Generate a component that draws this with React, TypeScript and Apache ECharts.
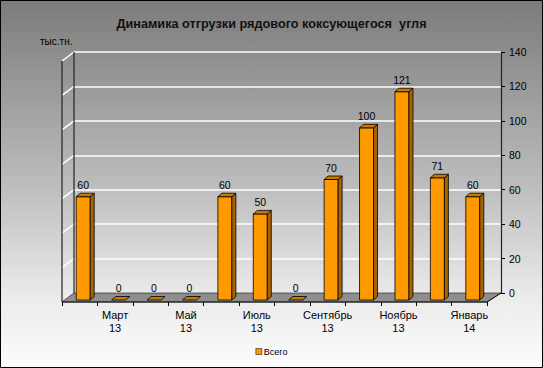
import React, { useEffect, useRef } from "react";
import * as echarts from "echarts";

const categories = [
  "Февраль\n13", "Март\n13", "Апрель\n13", "Май\n13", "Июнь\n13", "Июль\n13",
  "Август\n13", "Сентябрь\n13", "Октябрь\n13", "Ноябрь\n13", "Декабрь\n13", "Январь\n14",
];
const values = [60, 0, 0, 0, 60, 50, 0, 70, 100, 121, 71, 60];
const yTicks = [0, 20, 40, 60, 80, 100, 120, 140];
const seriesName = "Всего";
const titleText = "Динамика отгрузки рядового коксующегося  угля";
const unitText = "тыс.тн.";

const FONT = "'Liberation Sans', Arial, sans-serif";

export default function App() {
  const ref = useRef<HTMLDivElement>(null);
  useEffect(() => {
    if (!ref.current) return;
    const chart = echarts.init(ref.current, undefined, { renderer: "svg" });

    const barRender = (params: any, api: any) => {
      const idx = api.value(0);
      const v = api.value(1);
      const base = api.coord([idx, 0]);
      const tp = api.coord([idx, v]);
      const c = base[0];
      const w = 14, dx = 4, dy = 3.5;
      const x0 = c - 3.5;
      const yb = base[1] - 2;
      const yt = tp[1] - 2;
      const stroke = { stroke: "#000", lineWidth: 0.8 };
      const children: any[] = [];
      if (yb - yt > 0.5) {
        children.push({
          type: "rect",
          shape: { x: x0, y: yt, width: w, height: yb - yt },
          style: { fill: "#ff9900", ...stroke },
        });
        children.push({
          type: "polygon",
          shape: { points: [[x0 + w, yt], [x0 + w + dx, yt - dy], [x0 + w + dx, yb - dy], [x0 + w, yb]] },
          style: { fill: "#a86300", ...stroke },
        });
      }
      children.push({
        type: "polygon",
        shape: { points: [[x0, yt], [x0 + w, yt], [x0 + w + dx, yt - dy], [x0 + dx, yt - dy]] },
        style: { fill: "#c97800", ...stroke },
      });
      children.push({
        type: "text",
        style: {
          text: String(v), x: x0 + 7, y: yt - dy - 3,
          align: "center", verticalAlign: "bottom",
          fontSize: 10.5, fontFamily: FONT, fill: "#000",
        },
      });
      return { type: "group", children };
    };

    const decorRender = (params: any, api: any) => {
      const cs = params.coordSys;
      const xl = cs.x, xr = cs.x + cs.width;
      const yB = cs.y + cs.height;
      const dL = 12, dR = 14, dY = 9;
      const children: any[] = [];
      children.push({
        type: "polygon",
        shape: { points: [[xl - dL, yB + dY], [xr - dR, yB + dY], [xr, yB], [xl, yB]] },
        style: { fill: "#8e8e8e", stroke: "#333", lineWidth: 0.8 },
      });
      yTicks.forEach((t) => {
        const y = api.coord([0, t])[1];
        if (t > 0) {
          children.push({
            type: "line",
            shape: { x1: xl - dL, y1: y + dY, x2: xl, y2: y },
            style: { stroke: "#ffffff", lineWidth: 1.5 },
          });
        }
      });
      children.push({
        type: "line",
        shape: { x1: xl, y1: cs.y, x2: xl, y2: yB },
        style: { stroke: "#222", lineWidth: 1.2 },
      });
      children.push({
        type: "line",
        shape: { x1: xl - dL, y1: cs.y + dY, x2: xl - dL, y2: yB + dY },
        style: { stroke: "#222", lineWidth: 1.2 },
      });
      children.push({
        type: "line",
        shape: { x1: xl - dL, y1: yB + dY, x2: xr - dR, y2: yB + dY },
        style: { stroke: "#111", lineWidth: 1 },
      });
      children.push({
        type: "line",
        shape: { x1: xr - dR, y1: yB + dY, x2: xr, y2: yB },
        style: { stroke: "#111", lineWidth: 1 },
      });
      return { type: "group", children };
    };

    chart.setOption({
      animation: false,
      backgroundColor: {
        type: "linear", x: 0, y: 0, x2: 0, y2: 1,
        colorStops: [
          { offset: 0, color: "#7b7b7b" },
          { offset: 0.5, color: "#bcbcbc" },
          { offset: 0.8, color: "#eaeaea" },
          { offset: 1, color: "#fdfdfd" },
        ],
      },
      title: {
        text: titleText, left: "center", top: 12,
        textStyle: { fontSize: 12.7, fontWeight: "bold", fontFamily: FONT, color: "#111" },
      },
      legend: {
        data: [{ name: seriesName, icon: "rect", itemStyle: { color: "#ff9900", borderColor: "#000", borderWidth: 0.5 } }],
        left: "center", top: 347, itemWidth: 6, itemHeight: 6, itemGap: 2, padding: 0,
        textStyle: { fontSize: 9, fontFamily: FONT, color: "#000", padding: [0, 0, 0, -3] },
      },
      graphic: [
        {
          type: "text", left: 40, top: 36,
          style: { text: unitText, fontSize: 10, fontFamily: FONT, fill: "#000" },
        },
        {
          type: "rect", z: 100, silent: true,
          shape: { x: 0.5, y: 0.5, width: 542, height: 367 },
          style: { fill: "none", stroke: "#000", lineWidth: 1 },
        },
      ],
      grid: [
        { left: 62, right: 56, top: 61, bottom: 66 },
        { left: 74, right: 42, top: 52, bottom: 75 },
      ],
      xAxis: [
        {
          type: "category", gridIndex: 0, data: categories,
          axisLine: { show: false },
          axisTick: { show: true, interval: 0, length: 4, lineStyle: { color: "#000" } },
          axisLabel: {
            interval: (i: number) => i % 2 === 1,
            fontSize: 11, lineHeight: 13, margin: 6, color: "#000", fontFamily: FONT,
          },
        },
        { type: "category", gridIndex: 1, data: categories, show: false },
      ],
      yAxis: [
        { type: "value", gridIndex: 0, min: 0, max: 140, interval: 20, show: false },
        {
          type: "value", gridIndex: 1, min: 0, max: 140, interval: 20, position: "right",
          axisLine: { show: true, lineStyle: { color: "#222", width: 1.2 } },
          axisTick: { show: true, length: 4, lineStyle: { color: "#000" } },
          axisLabel: { fontSize: 10.5, margin: 8, color: "#000", fontFamily: FONT },
          splitLine: { show: true, lineStyle: { color: "#ffffff", width: 1.5 } },
        },
      ],
      series: [
        {
          type: "custom", name: "floor", xAxisIndex: 1, yAxisIndex: 1, z: 1,
          data: [[0, 0]], renderItem: decorRender, silent: true,
        },
        {
          type: "custom", name: seriesName, xAxisIndex: 0, yAxisIndex: 0, z: 5,
          itemStyle: { color: "#ff9900" },
          data: values.map((v, i) => [i, v]),
          renderItem: barRender,
        },
      ],
    });
    return () => chart.dispose();
  }, []);
  return <div ref={ref} style={{ position: "fixed", left: 0, top: 0, width: 543, height: 368 }} />;
}
